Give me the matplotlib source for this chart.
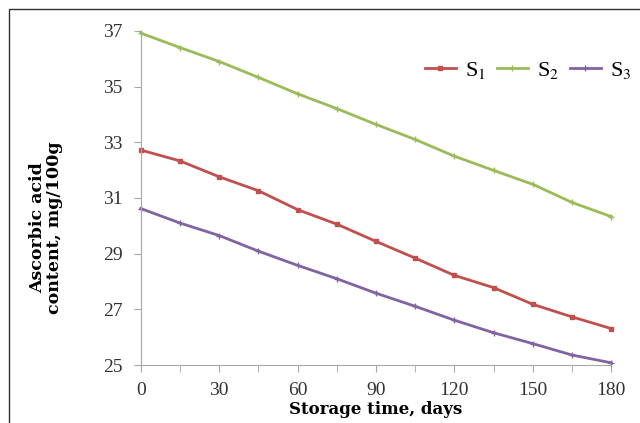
import numpy as np
import matplotlib.pyplot as plt
import matplotlib as mpl
from matplotlib.patches import Rectangle

settings = {"font.family": ['Liberation Serif'],
            "mathtext.fontset": 'stix',
            "xtick.labelsize": 14,
            "ytick.labelsize": 14}
mpl.rcParams.update(settings)

days = [0, 15, 30, 45, 60, 75, 90, 105, 120, 135, 150, 165, 180]
s1 = [32.72, 32.33, 31.76, 31.26, 30.58, 30.06, 29.44, 28.84, 28.22, 27.78, 27.18, 26.73, 26.31]
s2 = [36.92, 36.40, 35.90, 35.33, 34.74, 34.21, 33.64, 33.10, 32.50, 31.99, 31.49, 30.84, 30.33]
s3 = [30.62, 30.10, 29.65, 29.09, 28.58, 28.10, 27.58, 27.11, 26.61, 26.16, 25.77, 25.36, 25.08]

colors = ['#C0504D', '#9BBB59', '#8064A2']

fig = plt.figure(figsize=(6.4, 4.23), dpi=100)
# outer frame of the picture
fig.patches.append(Rectangle((9/640, -0.05), 1.1, 1 - 9/423 + 0.05, transform=fig.transFigure,
                             fill=False, edgecolor='#333333', linewidth=1))
ax = fig.add_axes([0.22, 0.137, 0.735, 0.79])

ax.plot(days, s1, color=colors[0], marker='s', markersize=3, linewidth=2, label='S$_1$')
ax.plot(days, s2, color=colors[1], marker='+', markersize=4, linewidth=2, label='S$_2$')
ax.plot(days, s3, color=colors[2], marker='+', markersize=4, linewidth=2, label='S$_3$')

ax.set_xlim(0, 180)
ax.set_ylim(25, 37)
ax.set_xticks(np.arange(0, 181, 30))
ax.set_xticks(np.arange(0, 181, 15), minor=True)
ax.set_yticks(np.arange(25, 38, 2))
for s in ['top', 'right']:
    ax.spines[s].set_visible(False)
for s in ['left', 'bottom']:
    ax.spines[s].set_color('#A6A6A6')
ax.tick_params(which='both', color='#A6A6A6', length=5, labelcolor='#333333')
ax.tick_params(axis='x', pad=7)
ax.tick_params(axis='y', pad=8)
for line in ax.lines:
    line.set_clip_on(False)

ax.set_xlabel('Storage time, days', fontsize=12, fontweight='bold', family='DejaVu Serif', labelpad=2)
ax.set_ylabel('Ascorbic acid\ncontent, mg/100g', fontsize=12.5, fontweight='bold',
              family='DejaVu Serif', linespacing=1.0)
ax.yaxis.set_label_coords(-0.166, 0.41)

fig.legend(loc='center', bbox_to_anchor=(0.825, 0.834), ncol=3, frameon=False, fontsize=16,
           handlelength=1.4, handletextpad=0.4, columnspacing=0.5, borderpad=0)

plt.savefig('out.png')
